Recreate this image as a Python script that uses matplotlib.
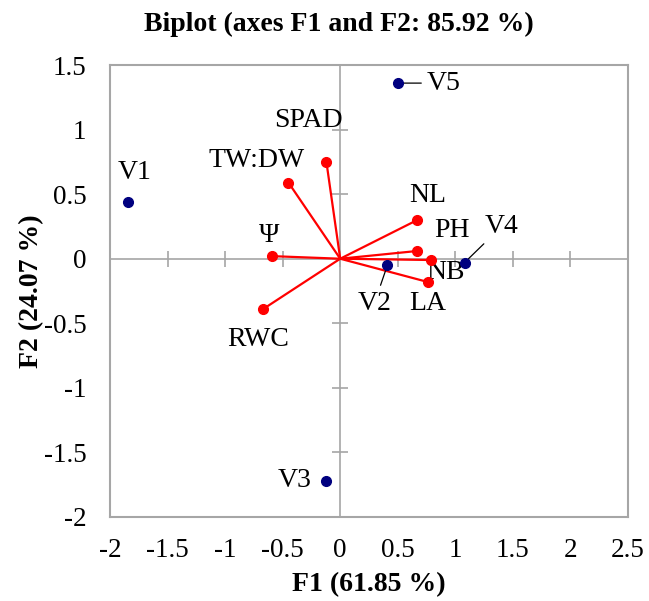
import numpy as np
import matplotlib.pyplot as plt

plt.rcParams['font.family'] = ['Liberation Serif', 'DejaVu Serif']

# observations (blue)
obs_names = ['V1', 'V2', 'V3', 'V4', 'V5']
obs_f1 = [-1.84, 0.41, -0.12, 1.08, 0.50]
obs_f2 = [0.44, -0.05, -1.72, -0.03, 1.36]

# variables (red vectors)
var_names = ['SPAD', 'TW:DW', 'Ψ', 'RWC', 'NL', 'PH', 'NB', 'LA']
var_f1 = [-0.12, -0.45, -0.59, -0.67, 0.67, 0.67, 0.79, 0.76]
var_f2 = [0.75, 0.59, 0.02, -0.39, 0.30, 0.06, -0.01, -0.18]

xticks = [-2, -1.5, -1, -0.5, 0, 0.5, 1, 1.5, 2, 2.5]
yticks = [-2, -1.5, -1, -0.5, 0, 0.5, 1, 1.5]

# label offsets in pixels (dx right, dy up)
obs_off = {'V1': (6, 29), 'V2': (-13, -38), 'V3': (-32, 0), 'V4': (37, 36), 'V5': (46, 0)}
obs_leader = {'V2', 'V4', 'V5'}
var_off = {'SPAD': (-18, 41), 'TW:DW': (-32, 22), 'Ψ': (-3, 21), 'RWC': (-5, -30),
           'NL': (10, 24), 'PH': (35, 20), 'NB': (14, -12), 'LA': (0, -22)}

fig = plt.figure(figsize=(6.49, 6.01), dpi=100)
ax = fig.add_axes([0.1695, 0.1398, 0.7981, 0.752])
gray = '#a6a6a6'

ax.set_xlim(-2, 2.5)
ax.set_ylim(-2, 1.5)
for s in ax.spines.values():
    s.set_color(gray)
    s.set_linewidth(1.5)

ax.axhline(0, color=gray, lw=1.2, zorder=1)
ax.axvline(0, color=gray, lw=1.2, zorder=1)
ax.plot(xticks, [0] * len(xticks), ls='none', marker='|', ms=11.5, mew=1.2, color=gray, zorder=1)
ax.plot([0] * len(yticks), yticks, ls='none', marker='_', ms=11.5, mew=1.2, color=gray, zorder=1)

ax.set_xticks(xticks)
ax.set_yticks(yticks)
ax.set_xticklabels([f'{t:g}' for t in xticks])
ax.set_yticklabels([f'{t:g}' for t in yticks])
ax.tick_params(axis='both', length=0, labelsize=19.5)
ax.tick_params(axis='x', pad=15)
ax.tick_params(axis='y', pad=17)

for name, x, y in zip(var_names, var_f1, var_f2):
    ax.plot([0, x], [0, y], color='#ff0000', lw=1.6, zorder=3)
    ax.plot(x, y, 'o', color='#ff0000', ms=7, zorder=4)
    dx, dy = var_off[name]
    ax.annotate(name, (x, y), xytext=(dx, dy), textcoords='offset pixels',
                ha='center', va='center', fontsize=20)

ax.plot(obs_f1, obs_f2, 'o', color='#00007f', ms=7, ls='none', zorder=5)
for name, x, y in zip(obs_names, obs_f1, obs_f2):
    dx, dy = obs_off[name]
    arrow = dict(arrowstyle='-', color='black', lw=0.9, shrinkA=2, shrinkB=4) if name in obs_leader else None
    ax.annotate(name, (x, y), xytext=(dx, dy), textcoords='offset pixels',
                ha='center', va='center', fontsize=20, arrowprops=arrow)

ax.set_xlabel('F1 (61.85 %)', fontsize=20, fontweight='bold', labelpad=7)
ax.set_ylabel('F2 (24.07 %)', fontsize=20, fontweight='bold', labelpad=0)
fig.text(0.522, 0.96, 'Biplot (axes F1 and F2: 85.92 %)', ha='center', va='center',
         fontsize=20, fontweight='bold')

fig.savefig('out.png', dpi=100)
